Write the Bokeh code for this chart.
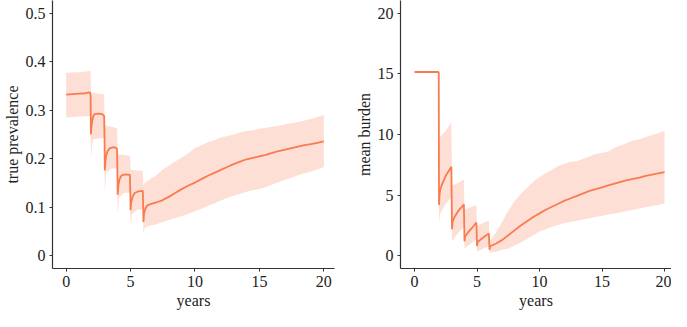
from bokeh.plotting import figure
from bokeh.layouts import row
from bokeh.models import Range1d, FixedTicker, CustomJSTickFormatter
from bokeh.embed import file_html
from bokeh.resources import INLINE

# ---------------- data: true prevalence ----------------
prev_t = [0.0, 0.5, 1.0, 1.5, 1.85, 1.9, 1.92, 1.95, 2.0, 2.1, 2.2, 2.5, 2.8, 2.95, 2.98,
          3.0, 3.05, 3.1, 3.2, 3.4, 3.7, 3.95, 3.98, 4.0, 4.05, 4.15, 4.3, 4.6, 4.95, 4.98,
          5.0, 5.05, 5.15, 5.3, 5.6, 5.95, 5.98, 6.0, 6.05, 6.15, 6.3, 6.6, 7.0, 7.5,
          8.0, 8.5, 9.0, 9.5, 10.0, 10.5, 11.0, 11.5, 12.0, 12.5, 13.0, 13.5, 14.0, 14.5,
          15.0, 15.5, 16.0, 16.5, 17.0, 17.5, 18.0, 18.5, 19.0, 19.5, 20.0]
prev_mean = [0.332, 0.333, 0.334, 0.335, 0.337, 0.330, 0.250, 0.262, 0.275, 0.287, 0.292, 0.293, 0.292, 0.288, 0.240,
             0.176, 0.195, 0.205, 0.215, 0.222, 0.224, 0.221, 0.170, 0.126, 0.145, 0.158, 0.166, 0.168, 0.167, 0.130,
             0.094, 0.110, 0.121, 0.129, 0.133, 0.134, 0.100, 0.070, 0.088, 0.097, 0.104, 0.107, 0.110, 0.115,
             0.122, 0.130, 0.138, 0.145, 0.151, 0.158, 0.165, 0.171, 0.177, 0.183, 0.189, 0.194, 0.199, 0.202,
             0.205, 0.208, 0.212, 0.216, 0.219, 0.222, 0.225, 0.228, 0.230, 0.233, 0.236]

prev_band_t = [0.0, 1.0, 1.85, 1.9, 1.92, 2.0, 2.1, 2.5, 2.95, 3.0, 3.1, 3.5, 3.95, 4.0, 4.1, 4.5, 4.95,
               5.0, 5.1, 5.5, 5.95, 6.0, 6.1, 6.5, 7.0, 7.5, 8.0, 8.5, 9.0, 9.5, 10.0, 10.5, 11.0,
               11.5, 12.0, 12.5, 13.0, 13.5, 14.0, 14.5, 15.0, 15.5, 16.0, 16.5, 17.0, 17.5, 18.0,
               18.5, 19.0, 19.5, 20.0]
prev_lo = [0.285, 0.287, 0.288, 0.288, 0.200, 0.225, 0.240, 0.242, 0.243, 0.130, 0.170, 0.180, 0.180, 0.085, 0.120, 0.130, 0.130,
           0.060, 0.085, 0.095, 0.096, 0.045, 0.058, 0.062, 0.065, 0.070, 0.074, 0.078, 0.082, 0.087, 0.092, 0.097, 0.103,
           0.108, 0.114, 0.119, 0.124, 0.128, 0.132, 0.135, 0.138, 0.142, 0.147, 0.152, 0.157, 0.161, 0.166,
           0.170, 0.174, 0.178, 0.183]
prev_hi = [0.377, 0.378, 0.381, 0.382, 0.335, 0.334, 0.335, 0.334, 0.333, 0.270, 0.268, 0.266, 0.263, 0.210, 0.209, 0.208, 0.206,
           0.178, 0.177, 0.176, 0.175, 0.145, 0.150, 0.158, 0.166, 0.178, 0.186, 0.195, 0.203, 0.212, 0.222, 0.228, 0.234,
           0.238, 0.244, 0.247, 0.250, 0.254, 0.257, 0.259, 0.262, 0.264, 0.266, 0.268, 0.271, 0.273, 0.276,
           0.279, 0.282, 0.286, 0.290]

# ---------------- data: mean burden ----------------
burd_t = [0.0, 1.9, 1.94, 1.96, 2.0, 2.05, 2.2, 2.5, 2.8, 2.95, 3.0, 3.05, 3.2, 3.5, 3.8, 3.95,
          4.0, 4.05, 4.3, 4.6, 4.95, 5.0, 5.05, 5.3, 5.6, 5.95, 6.0, 6.05, 6.5, 7.0, 7.5,
          8.0, 8.5, 9.0, 9.5, 10.0, 10.5, 11.0, 11.5, 12.0, 12.5, 13.0, 13.5, 14.0, 14.5,
          15.0, 15.5, 16.0, 16.5, 17.0, 17.5, 18.0, 18.5, 19.0, 19.5, 20.0]
burd_mean = [15.15, 15.15, 15.1, 4.2, 5.0, 5.4, 5.9, 6.6, 7.1, 7.35, 2.2, 2.8, 3.2, 3.7, 4.05, 4.25,
             1.2, 1.6, 1.95, 2.3, 2.75, 0.8, 1.15, 1.35, 1.6, 1.85, 0.5, 0.8, 1.0, 1.3, 1.7,
             2.1, 2.5, 2.85, 3.2, 3.5, 3.8, 4.05, 4.3, 4.55, 4.75, 4.95, 5.15, 5.35, 5.5,
             5.65, 5.8, 5.95, 6.1, 6.25, 6.35, 6.45, 6.6, 6.7, 6.8, 6.9]

burd_band_t = [1.96, 2.05, 2.5, 2.95, 3.0, 3.5, 3.95, 4.0, 4.5, 4.95, 5.0, 5.5, 5.95,
               6.0, 6.5, 7.0, 7.5, 8.0, 8.5, 9.0, 9.5, 10.0, 10.5, 11.0, 11.5, 12.0, 12.5,
               13.0, 13.5, 14.0, 14.5, 15.0, 15.5, 16.0, 16.5, 17.0, 17.5, 18.0, 18.5, 19.0, 19.5, 20.0]
burd_lo = [2.7, 3.5, 4.3, 4.8, 1.2, 1.9, 2.4, 0.6, 1.0, 1.4, 0.35, 0.6, 0.8,
           0.25, 0.35, 0.5, 0.6, 0.85, 1.1, 1.4, 1.7, 2.0, 2.2, 2.4, 2.55, 2.7, 2.8,
           2.9, 3.0, 3.1, 3.2, 3.3, 3.4, 3.5, 3.6, 3.7, 3.8, 3.9, 4.0, 4.1, 4.2, 4.3]
burd_hi = [9.5, 9.8, 10.3, 11.0, 5.8, 6.0, 6.3, 3.8, 4.0, 4.2, 2.5, 2.7, 2.9,
           1.2, 1.9, 2.8, 3.7, 4.5, 5.1, 5.6, 6.1, 6.5, 6.8, 7.1, 7.4, 7.6, 7.75,
           7.8, 8.0, 8.2, 8.4, 8.5, 8.6, 8.9, 9.1, 9.3, 9.5, 9.6, 9.8, 9.95, 10.1, 10.3]

x_ticks = [0, 5, 10, 15, 20]
prev_ticks = [0, 0.1, 0.2, 0.3, 0.4, 0.5]
burd_ticks = [0, 5, 10, 15, 20]

LINE = "#F97B4F"
BAND = "#FDDFD5"
FONT = "'Liberation Serif', 'Times New Roman', serif"
TXT = "#222222"


def style(p, xlabel, ylabel, yticks, yfmt):
    p.xgrid.visible = False
    p.ygrid.visible = False
    p.outline_line_color = None
    p.background_fill_color = "white"
    p.border_fill_color = "white"
    p.xaxis.ticker = FixedTicker(ticks=x_ticks)
    p.yaxis.ticker = FixedTicker(ticks=yticks)
    if yfmt:
        p.yaxis.formatter = CustomJSTickFormatter(code="return tick == 0 ? '0' : tick.toFixed(1);")
    p.xaxis.axis_label = xlabel
    p.yaxis.axis_label = ylabel
    for ax in (p.xaxis, p.yaxis):
        ax.axis_line_color = "#333333"
        ax.axis_line_width = 1.2
        ax.major_tick_line_color = "#333333"
        ax.major_tick_in = 0
        ax.major_tick_out = 3
        ax.minor_tick_line_color = None
        ax.major_label_text_font = FONT
        ax.major_label_text_font_size = "16px"
        ax.major_label_text_color = TXT
        ax.axis_label_text_font = FONT
        ax.axis_label_text_font_size = "16px"
        ax.axis_label_text_font_style = "normal"
        ax.axis_label_text_color = TXT
        ax.major_label_standoff = 4
        ax.axis_label_standoff = 2


p1 = figure(width=338, height=311, output_backend="svg", toolbar_location=None,
            x_range=Range1d(-1.06, 20.83), y_range=Range1d(-0.026, 0.526),
            min_border_left=0, min_border_right=4, min_border_top=0, min_border_bottom=0)
p1.varea(x=prev_band_t, y1=prev_lo, y2=prev_hi, fill_color=BAND, fill_alpha=1.0)
p1.line(x=prev_t, y=prev_mean, line_color=LINE, line_width=1.8)
style(p1, "years", "true prevalence", prev_ticks, True)

p2 = figure(width=333, height=311, output_backend="svg", toolbar_location=None,
            x_range=Range1d(-1.12, 20.56), y_range=Range1d(-1.04, 21.04),
            min_border_left=62, min_border_right=0, min_border_top=0, min_border_bottom=0)
p2.varea(x=burd_band_t, y1=burd_lo, y2=burd_hi, fill_color=BAND, fill_alpha=1.0)
p2.line(x=burd_t, y=burd_mean, line_color=LINE, line_width=1.8)
style(p2, "years", "mean burden", burd_ticks, False)

layout = row(p1, p2)
open("out.html", "w").write(file_html(layout, INLINE))
